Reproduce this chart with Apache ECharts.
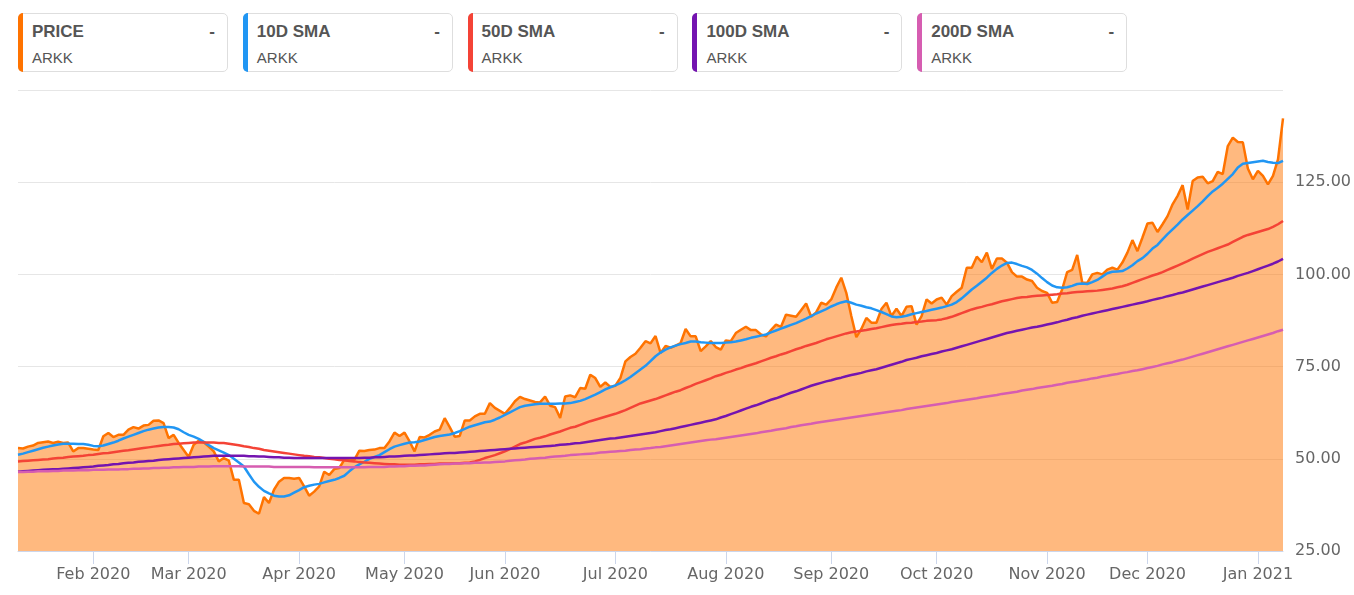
<!DOCTYPE html>
<html>
<head>
<meta charset="utf-8">
<script src="https://cdn.jsdelivr.net/npm/echarts@6/dist/echarts.min.js"></script>
<style>
html,body{margin:0;padding:0;background:#fff;}
#wrap{position:relative;width:1354px;height:595px;overflow:hidden;background:#fff;}
#chart{position:absolute;left:0;top:0;width:1354px;height:595px;}
.card{position:absolute;top:13px;width:210px;height:59px;box-sizing:border-box;border:1px solid #dedede;border-radius:5px;background:#fff;font-family:"Liberation Sans",Arial,sans-serif;color:#555;z-index:2;}
.card .bar{position:absolute;left:-1px;top:-1px;bottom:-1px;width:5px;border-radius:5px 0 0 5px;}
.card .t{position:absolute;left:13px;top:8px;font-size:17px;font-weight:bold;line-height:20px;white-space:nowrap;}
.card .d{position:absolute;right:12px;top:8px;font-size:17px;font-weight:bold;line-height:20px;}
.card .s{position:absolute;left:13px;top:35px;font-size:15px;line-height:18px;}
</style>
</head>
<body>
<div id="wrap">
  <div id="chart"></div>
</div>
<script>
// ---- data ----
const seriesNames = ['PRICE', '10D SMA', '50D SMA', '100D SMA', '200D SMA'];
const tickerLabel = 'ARKK';
const seriesColors = ['#FF7300', '#2196F3', '#F44336', '#7414B0', '#D65DB1'];
const monthNames = ['Jan','Feb','Mar','Apr','May','Jun','Jul','Aug','Sep','Oct','Nov','Dec'];
const yTicks = [25, 50, 75, 100, 125, 150];
const marketHolidays = ['2020-01-20','2020-02-17','2020-04-10','2020-05-25','2020-07-03','2020-09-07','2020-11-26','2020-12-25','2021-01-01'];
const firstDay = '2020-01-10';
const lastDay = '2021-01-11';

const price = [
52.9,52.8,53.3,53.6,54.3,54.5,54.7,54.3,54.6,54.3,
54.4,52.0,52.9,52.9,52.7,52.5,52.4,56.1,57.0,55.9,
56.5,56.5,57.9,58.6,58.2,59.0,59.2,60.3,60.4,59.7,
55.6,56.5,54.3,52.4,50.5,53.8,54.9,54.5,53.3,52.0,
49.3,50.2,49.5,44.3,44.3,38.0,37.7,35.9,35.1,39.6,
38.0,41.6,43.8,44.8,44.8,44.6,44.8,42.5,40.0,41.1,
42.5,46.5,45.6,47.2,47.5,49.7,49.6,49.7,52.2,52.1,
52.4,52.5,52.9,52.9,54.7,57.1,56.2,57.1,54.7,52.0,
55.9,55.8,56.5,57.4,57.9,61.0,58.6,56.0,56.2,60.4,
60.4,61.5,62.2,62.2,65.1,63.8,63.0,62.2,63.8,65.6,
66.8,66.2,65.8,65.4,65.3,66.9,64.4,64.0,61.1,66.9,
67.2,66.7,69.2,69.0,72.8,71.9,69.5,70.7,69.5,69.8,
71.9,76.4,77.6,78.5,80.1,81.9,81.3,83.3,78.7,80.6,
80.1,80.7,81.4,85.2,83.2,83.2,79.2,80.5,81.9,80.3,
79.6,82.1,81.9,84.1,85.0,85.8,84.9,84.9,83.7,83.2,
84.9,86.4,85.8,89.1,88.8,88.5,90.3,92.1,88.5,89.7,
92.3,91.8,93.2,96.4,99.1,95.0,88.7,83.0,85.2,88.2,
86.9,86.9,90.6,92.3,88.7,90.7,88.7,91.2,91.4,86.4,
88.7,93.2,92.1,93.2,93.7,91.8,94.1,95.3,96.4,101.8,
101.8,104.8,103.3,105.9,101.5,104.3,104.3,103.2,100.6,99.4,
99.4,98.6,98.2,96.4,95.5,95.0,92.3,92.5,95.9,100.6,
101.2,105.3,97.8,97.7,100.0,100.4,100.0,101.3,101.8,101.3,
103.2,105.9,109.3,106.3,110.0,113.8,114.0,111.5,113.6,115.8,
119.0,121.3,124.2,117.6,125.3,126.3,126.5,124.7,125.3,127.8,
127.2,134.8,137.1,135.9,135.8,128.7,125.8,128.1,126.7,124.4,
126.7,131.2,142.3];

const sma10 = [
51.1,51.4,51.8,52.2,52.6,53.0,53.3,53.6,53.9,54.1,
54.1,54.1,54.0,54.0,53.8,53.5,53.4,53.6,54.0,54.4,
54.9,55.5,56.0,56.5,57.0,57.5,57.9,58.2,58.5,58.6,
58.6,58.5,58.0,57.2,56.5,56.0,55.4,54.6,53.7,52.9,
52.3,51.7,51.0,50.0,49.0,47.9,45.8,43.8,42.4,41.3,
40.6,40.0,39.8,39.8,40.1,40.8,41.5,42.3,42.7,43.0,
43.2,43.6,44.0,44.3,44.8,45.4,46.6,47.7,48.5,49.2,
50.0,50.5,51.0,51.8,52.6,53.3,53.7,54.1,54.4,54.5,
54.7,55.1,55.5,55.9,56.2,56.4,56.6,57.0,57.5,58.1,
58.7,59.1,59.5,59.9,60.1,60.6,61.2,61.9,62.6,63.3,
64.0,64.4,64.6,64.8,64.9,64.9,64.9,64.9,65.0,65.0,
65.1,65.4,65.7,66.2,66.8,67.4,68.1,68.8,69.4,69.9,
70.5,71.3,72.2,73.2,74.2,75.2,76.5,77.8,78.8,79.6,
80.2,80.7,81.1,81.4,81.8,81.8,81.6,81.5,81.4,81.4,
81.4,81.5,81.6,81.8,82.1,82.4,82.8,83.1,83.4,83.7,
84.3,84.8,85.3,85.8,86.3,86.8,87.4,88.0,88.7,89.4,
90.0,90.6,91.3,91.9,92.4,92.7,92.3,91.8,91.5,91.1,
90.8,90.3,89.8,89.2,88.6,88.4,88.5,88.8,89.2,89.5,
89.8,90.1,90.4,90.7,91.0,91.4,91.8,92.5,93.5,94.7,
95.9,96.9,98.0,99.1,100.4,101.5,102.4,103.1,103.2,102.8,
102.3,101.9,101.2,100.2,99.0,97.9,97.0,96.5,96.4,96.5,
96.9,97.4,97.5,97.4,97.9,98.5,99.4,100.3,100.7,100.8,
100.9,101.6,102.5,103.6,104.4,105.6,107.0,108.0,109.5,110.9,
112.2,113.5,114.9,116.1,117.3,118.5,119.8,121.2,122.5,123.5,
124.6,125.9,127.2,129.0,130.0,130.2,130.4,130.6,130.8,130.5,
130.3,130.2,130.8];

const sma50 = [
49.3,49.4,49.5,49.6,49.7,49.8,49.9,50.1,50.2,50.3,
50.5,50.6,50.7,50.8,51.0,51.1,51.3,51.5,51.6,51.8,
52.0,52.2,52.3,52.5,52.7,52.9,53.1,53.3,53.5,53.7,
53.8,54.0,54.1,54.2,54.3,54.4,54.4,54.4,54.4,54.4,
54.3,54.3,54.1,53.9,53.7,53.4,53.2,52.9,52.7,52.4,
52.2,52.0,51.8,51.6,51.4,51.2,51.0,50.8,50.7,50.5,
50.4,50.2,50.0,49.9,49.7,49.6,49.4,49.3,49.1,49.0,
48.9,48.8,48.7,48.6,48.5,48.5,48.4,48.4,48.4,48.4,
48.5,48.5,48.6,48.6,48.7,48.7,48.7,48.8,48.8,48.9,
49.0,49.3,49.7,50.2,50.6,51.0,51.5,52.0,52.6,53.3,
54.0,54.4,54.9,55.4,55.7,56.1,56.6,57.0,57.4,57.9,
58.4,58.7,59.2,59.7,60.2,60.6,61.0,61.4,61.8,62.2,
62.7,63.2,63.8,64.4,65.0,65.4,65.8,66.2,66.7,67.2,
67.7,68.2,68.6,69.2,69.7,70.3,70.8,71.3,71.8,72.4,
72.8,73.3,73.7,74.2,74.6,75.1,75.5,75.9,76.4,76.9,
77.4,77.8,78.3,78.7,79.2,79.7,80.1,80.6,81.0,81.4,
81.9,82.4,82.8,83.2,83.6,84.0,84.3,84.5,84.7,84.9,
85.2,85.4,85.7,86.0,86.3,86.5,86.6,86.8,86.9,87.1,
87.2,87.4,87.5,87.6,87.8,88.1,88.5,89.0,89.5,90.0,
90.5,90.9,91.2,91.6,91.9,92.3,92.7,93.0,93.3,93.6,
93.8,93.9,94.1,94.2,94.3,94.4,94.5,94.6,94.8,94.9,
95.1,95.2,95.3,95.4,95.5,95.6,95.8,96.0,96.2,96.5,
96.8,97.2,97.7,98.2,98.7,99.2,99.7,100.1,100.6,101.2,
101.8,102.4,103.0,103.6,104.3,104.9,105.5,106.1,106.6,107.1,
107.6,108.1,108.8,109.5,110.2,110.7,111.1,111.5,111.9,112.3,
112.9,113.6,114.5];

const sma100 = [
46.5,46.6,46.7,46.8,46.9,47.0,47.1,47.2,47.2,47.3,
47.4,47.5,47.6,47.7,47.8,47.9,48.1,48.2,48.3,48.5,
48.6,48.8,48.9,49.0,49.2,49.3,49.4,49.5,49.7,49.8,
49.9,50.0,50.1,50.2,50.3,50.4,50.5,50.6,50.7,50.8,
50.8,50.8,50.8,50.8,50.8,50.8,50.7,50.7,50.6,50.6,
50.5,50.4,50.4,50.3,50.3,50.2,50.2,50.2,50.2,50.2,
50.2,50.2,50.2,50.2,50.2,50.2,50.2,50.2,50.2,50.3,
50.3,50.4,50.4,50.5,50.6,50.6,50.7,50.8,50.9,50.9,
51.0,51.1,51.2,51.3,51.4,51.5,51.6,51.6,51.7,51.8,
51.9,52.0,52.1,52.2,52.3,52.4,52.5,52.6,52.7,52.8,
52.9,53.0,53.1,53.2,53.3,53.4,53.5,53.6,53.8,53.9,
54.0,54.2,54.3,54.5,54.7,54.9,55.1,55.3,55.5,55.6,
55.8,56.0,56.2,56.4,56.6,56.8,57.0,57.2,57.5,57.8,
58.0,58.3,58.6,58.9,59.2,59.5,59.8,60.1,60.4,60.7,
61.2,61.6,62.1,62.6,63.1,63.6,64.1,64.5,65.0,65.5,
66.0,66.4,66.9,67.4,67.9,68.3,68.8,69.3,69.8,70.2,
70.6,71.0,71.3,71.7,72.0,72.4,72.7,73.0,73.3,73.7,
74.0,74.3,74.7,75.1,75.5,75.9,76.3,76.8,77.1,77.4,
77.8,78.1,78.4,78.7,79.1,79.4,79.7,80.1,80.5,80.9,
81.3,81.7,82.1,82.5,82.9,83.3,83.7,84.1,84.4,84.7,
85.0,85.3,85.6,85.8,86.1,86.4,86.7,87.0,87.4,87.7,
88.1,88.4,88.8,89.1,89.4,89.7,90.0,90.3,90.6,90.9,
91.2,91.5,91.8,92.1,92.4,92.7,93.1,93.4,93.7,94.1,
94.4,94.8,95.1,95.5,95.9,96.3,96.7,97.1,97.5,97.9,
98.3,98.7,99.1,99.6,100.0,100.4,100.9,101.4,101.9,102.4,
102.9,103.5,104.2];

const sma200 = [
46.4,46.4,46.5,46.5,46.6,46.6,46.6,46.7,46.7,46.8,
46.8,46.8,46.9,46.9,46.9,47.0,47.0,47.0,47.1,47.1,
47.1,47.2,47.2,47.3,47.3,47.4,47.4,47.5,47.5,47.6,
47.6,47.7,47.7,47.8,47.8,47.8,47.9,47.9,47.9,48.0,
48.0,48.0,48.0,48.0,48.0,47.9,47.9,47.9,47.9,47.9,
47.9,47.8,47.8,47.8,47.8,47.8,47.8,47.8,47.8,47.7,
47.7,47.7,47.7,47.7,47.7,47.7,47.7,47.7,47.7,47.7,
47.8,47.8,47.8,47.8,47.9,47.9,48.0,48.0,48.1,48.1,
48.2,48.2,48.3,48.4,48.5,48.6,48.6,48.7,48.7,48.8,
48.8,48.9,48.9,49.0,49.0,49.1,49.2,49.3,49.5,49.6,
49.7,49.8,50.0,50.1,50.2,50.3,50.5,50.6,50.7,50.8,
51.0,51.1,51.2,51.3,51.4,51.5,51.7,51.8,51.9,52.0,
52.1,52.2,52.4,52.5,52.6,52.8,52.9,53.1,53.2,53.4,
53.6,53.8,54.0,54.2,54.4,54.6,54.8,55.0,55.2,55.3,
55.5,55.7,55.9,56.1,56.3,56.5,56.7,56.9,57.2,57.4,
57.6,57.9,58.1,58.3,58.6,58.8,59.1,59.3,59.5,59.8,
60.0,60.2,60.4,60.6,60.8,61.0,61.2,61.4,61.6,61.8,
62.0,62.2,62.4,62.6,62.8,63.0,63.2,63.5,63.7,63.9,
64.1,64.3,64.5,64.7,64.9,65.1,65.4,65.6,65.8,66.0,
66.2,66.4,66.7,66.9,67.1,67.3,67.6,67.8,68.0,68.2,
68.5,68.7,68.9,69.2,69.4,69.6,69.8,70.1,70.3,70.6,
70.8,71.0,71.3,71.5,71.8,72.0,72.3,72.5,72.8,73.0,
73.3,73.5,73.8,74.0,74.3,74.6,74.9,75.2,75.6,75.9,
76.2,76.6,76.9,77.3,77.7,78.1,78.5,78.9,79.3,79.7,
80.1,80.5,80.9,81.3,81.7,82.1,82.5,82.9,83.3,83.7,
84.1,84.6,85.0];

// ---- trading-day categories ----
function tradingDays(from, to, holidays) {
  const out = [];
  let t = Date.parse(from + 'T00:00:00Z');
  const end = Date.parse(to + 'T00:00:00Z');
  while (t <= end) {
    const d = new Date(t);
    const wd = d.getUTCDay();
    const s = d.toISOString().slice(0, 10);
    if (wd !== 0 && wd !== 6 && holidays.indexOf(s) < 0) out.push(s);
    t += 86400000;
  }
  return out;
}
const dates = tradingDays(firstDay, lastDay, marketHolidays);
function isMonthStart(i) {
  return i > 0 && dates[i].slice(5, 7) !== dates[i - 1].slice(5, 7);
}

// ---- legend cards (HTML) ----
const wrap = document.getElementById('wrap');
seriesNames.forEach(function (name, k) {
  const c = document.createElement('div');
  c.className = 'card';
  c.style.left = (18 + k * 224.8) + 'px';
  c.innerHTML = '<div class="bar" style="background:' + seriesColors[k] + '"></div>' +
    '<div class="t">' + name + '</div><div class="d">-</div>' +
    '<div class="s">' + tickerLabel + '</div>';
  wrap.appendChild(c);
});

// ---- chart ----
const chart = echarts.init(document.getElementById('chart'), null, {renderer: 'canvas'});
const seriesData = [price, sma10, sma50, sma100, sma200];
const series = seriesData.map(function (arr, k) {
  const s = {
    name: seriesNames[k],
    type: 'line',
    data: arr,
    showSymbol: false,
    symbol: 'none',
    smooth: false,
    lineStyle: {color: seriesColors[k], width: 2.5},
    itemStyle: {color: seriesColors[k]},
    emphasis: {disabled: true},
    z: 2
  };
  if (k === 0) {
    s.areaStyle = {color: seriesColors[0], opacity: 0.5, origin: 'start'};
  }
  return s;
});

chart.setOption({
  animation: false,
  backgroundColor: '#ffffff',
  grid: {left: 18, right: 69, top: 90, bottom: 44, containLabel: false},
  xAxis: {
    type: 'category',
    data: dates,
    boundaryGap: false,
    axisLine: {show: true, lineStyle: {color: '#ccd6eb', width: 1}},
    axisTick: {show: true, interval: function (i) { return isMonthStart(i); }, length: 13, lineStyle: {color: '#ccd6eb'}},
    axisLabel: {
      interval: function (i) { return isMonthStart(i); },
      formatter: function (v) { return monthNames[parseInt(v.slice(5, 7), 10) - 1] + ' ' + v.slice(0, 4); },
      color: '#666666',
      fontSize: 16,
      fontFamily: 'DejaVu Sans',
      margin: 16
    },
    splitLine: {show: false}
  },
  yAxis: {
    type: 'value',
    position: 'right',
    min: yTicks[0],
    max: yTicks[yTicks.length - 1],
    interval: yTicks[1] - yTicks[0],
    axisLine: {show: false},
    axisTick: {show: false},
    axisLabel: {
      formatter: function (v) { return v.toFixed(2); },
      color: '#666666',
      fontSize: 16,
      fontFamily: 'DejaVu Sans',
      margin: 12,
      padding: [5, 0, 0, 0],
      showMaxLabel: false
    },
    splitLine: {show: true, lineStyle: {color: '#e6e6e6', width: 1}}
  },
  series: series
});
</script>
</body>
</html>
